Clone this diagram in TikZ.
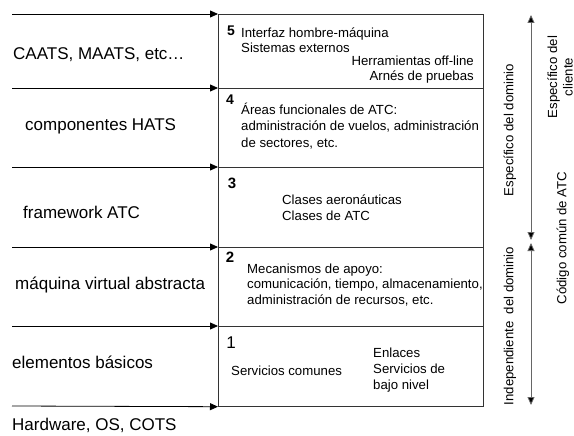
\documentclass[tikz,border=0pt]{standalone}
\usepackage{fontspec}
\setmainfont{Liberation Sans}
\usetikzlibrary{arrows.meta}
\begin{document}
\begin{tikzpicture}[x=1pt, y=-1pt,
		layer/.style={draw=black!80, line width=0.7pt, minimum width=265pt, anchor=north west, inner sep=0pt},
		big/.style={font=\fontsize{17}{19}\selectfont, anchor=west, inner sep=0pt},
		small/.style={font=\fontsize{13.2}{15.5}\selectfont, inner sep=0pt},
		num/.style={font=\bfseries\fontsize{14}{16}\selectfont, inner sep=0pt},
		arr/.style={line width=0.8pt, -{Triangle[length=8pt,width=7pt]}},
		darr/.style={draw=black!60, line width=0.8pt, {Triangle[length=8pt,width=7pt,fill=black]}-{Triangle[length=8pt,width=7pt,fill=black]}}]
			\useasboundingbox (0,0) rectangle (574,436);
			
			\node[layer, minimum height=74pt] (lay5) at (218, 14) {};
			\node[layer, minimum height=79pt] (lay4) at (218, 88) {};
			\node[layer, minimum height=80pt] (lay3) at (218, 167) {};
			\node[layer, minimum height=79pt] (lay2) at (218, 247) {};
			\node[layer, minimum height=80pt] (lay1) at (218, 326) {};
			
			\coordinate (s5) at (12, 14);
			\coordinate (s4) at (12, 88);
			\coordinate (s3) at (12, 167);
			\coordinate (s2) at (12, 247);
			\coordinate (s1) at (12, 326);
			\coordinate (s0) at (12, 406);
			
			\draw[arr] (s5) -- (lay5.north west);
			\draw[arr] (s4) -- (lay4.north west);
			\draw[arr] (s3) -- (lay3.north west);
			\draw[arr] (s2) -- (lay2.north west);
			\draw[arr] (s1) -- (lay1.north west);
			\draw[arr] (s0) -- (lay1.south west);
			
			\node[big] (caats)  at (13, 55)  {CAATS, MAATS, etc\ldots};
			\node[big] (hats)   at (25, 126) {componentes HATS};
			\node[big] (frame)  at (23, 212) {framework ATC};
			\node[big] (vm)     at (15, 285) {máquina virtual abstracta};
			\node[big] (basic)  at (12, 362) {elementos básicos};
			\node[big] (hw)     at (12, 425) {Hardware, OS, COTS};
			
			\node[num] (n5) at (231, 31)  {5};
			\node[num] (n4) at (230, 100) {4};
			\node[num, font=\bfseries\fontsize{15}{17}\selectfont] (n3) at (232, 183) {3};
			\node[num, font=\bfseries\fontsize{15}{17}\selectfont] (n2) at (230, 257) {2};
			\node[num, font=\fontsize{17}{19}\selectfont] (n1) at (231, 343) {1};
			
			\node[small, anchor=west, align=left]  (t5a) at (241, 40)    {Interfaz hombre-máquina\\Sistemas externos};
			\node[small, anchor=east, align=right] (t5b) at (474, 69.5)  {Herramientas off-line\\Arnés de pruebas};
			\node[small, anchor=west, align=left, font=\fontsize{13.2}{16.5}\selectfont] (t4) at (241, 126)
				{Áreas funcionales de ATC:\\administración de vuelos, administración\\de sectores, etc.};
			\node[small, anchor=west, align=left]  (t3)  at (282, 207.5) {Clases aeronáuticas\\Clases de ATC};
			\node[small, anchor=west, align=left]  (t2)  at (247, 285)   {Mecanismos de apoyo:\\comunicación, tiempo, almacenamiento,\\administración de recursos, etc.};
			\node[small, anchor=west]              (t1a) at (231, 371)   {Servicios comunes};
			\node[small, anchor=west, align=left, font=\fontsize{13.2}{16}\selectfont] (t1b) at (373, 370) {Enlaces\\Servicios de\\bajo nivel};
			
			\coordinate (d1) at (531, 15);
			\coordinate (d2) at (531, 240);
			\coordinate (d3) at (531, 243);
			\coordinate (d4) at (531, 405);
			\draw[darr] (d1) -- (d2);
			\draw[darr] (d3) -- (d4);
			
			\node[small, rotate=90] (espdom) at (510, 130) {Específico del dominio};
			\node[small, rotate=90] (inddom) at (510, 326) {Independiente~ del dominio};
			\node[small, rotate=90, align=center] (espcli) at (560, 77) {Específico del\\cliente};
			\node[small, rotate=90] (comun) at (563, 238) {Código común de ATC};
		\end{tikzpicture}
\end{document}
